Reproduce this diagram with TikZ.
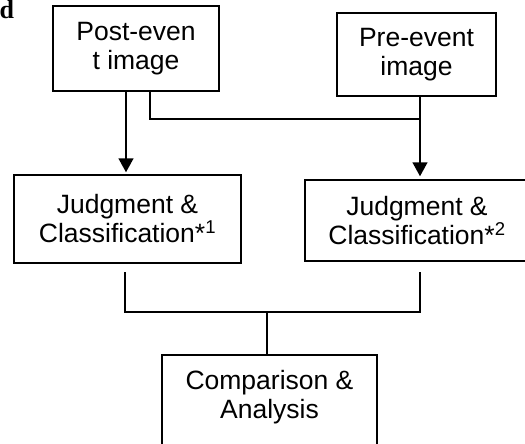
\documentclass[tikz,border=0pt]{standalone}
\usepackage{fontspec}
\setmainfont{Liberation Sans}
\newfontfamily\serifd{Liberation Serif}
\usetikzlibrary{arrows.meta}
\tikzset{
  box/.style={draw, line width=1.5pt, inner sep=0pt, align=center,
    font=\fontsize{26.5}{29}\selectfont},
  conn/.style={line width=1.5pt},
  arr/.style={conn, -{Triangle[length=14pt,width=15pt]}}
}
\begin{document}
\begin{tikzpicture}[x=1pt,y=-1pt]
\useasboundingbox (0,0) rectangle (525,444);
\clip (0,0) rectangle (525,444);
\fill[white] (0,0) rectangle (525,444);
\node[anchor=base west, inner sep=0pt, font=\serifd\bfseries\fontsize{26}{26}\selectfont] (dd) at (-0.5,19) {d};
\node[box, minimum width=166, minimum height=85] (post) at (136,48.5) {Post-even\\t image};
\node[box, minimum width=159, minimum height=83] (pre) at (416.5,54.5) {Pre-event\\image};
\node[box, minimum width=227, minimum height=88] (jl) at (127.5,219) {Judgment \&\\Classification*\textsuperscript{1}};
\node[box, minimum width=224, minimum height=81] (jr) at (417,220.5) {Judgment \&\\Classification*\textsuperscript{2}};
\node[box, anchor=north] (cmp) at (269.5,354) {\begin{minipage}[t][110pt][t]{215pt}\centering\vspace*{16pt}Comparison \&\\Analysis\end{minipage}};
\coordinate (pb) at (150,119);
\coordinate (jn) at (420,119);
\coordinate (jlb) at (125,272);
\coordinate (jrb) at (420,272);
\coordinate (mid) at (267,312);
\draw[arr, shorten >=2pt] (post.south -| 126,0) -- (jl.north -| 126,0);
\draw[arr, shorten >=3pt] (pre.south -| jn) -- (jr.north -| jn);
\draw[conn] (post.south -| pb) |- (jn);
\draw[conn] (jlb) |- (mid) -| (jrb);
\draw[conn] (mid) -- (cmp.north -| mid);
\end{tikzpicture}
\end{document}
